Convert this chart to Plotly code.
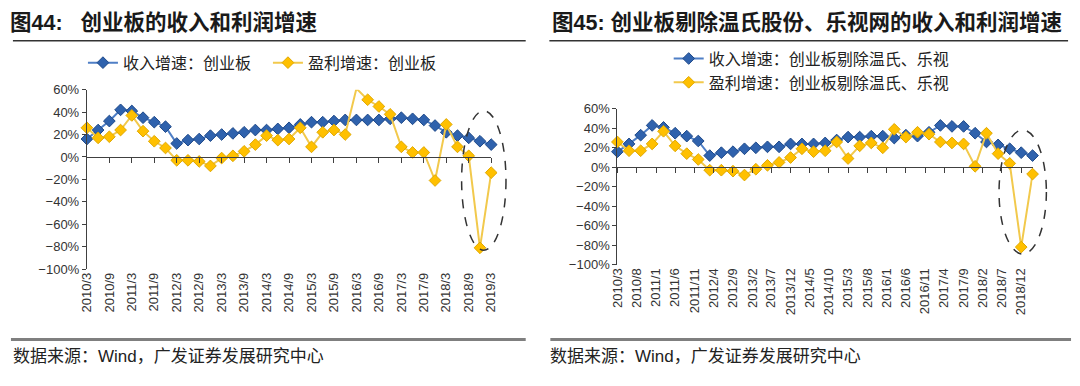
import plotly.graph_objects as go

# ---------------- data ----------------
QUARTERS = ["2010/3", "2010/6", "2010/9", "2010/12", "2011/3", "2011/6", "2011/9", "2011/12",
            "2012/3", "2012/6", "2012/9", "2012/12", "2013/3", "2013/6", "2013/9", "2013/12",
            "2014/3", "2014/6", "2014/9", "2014/12", "2015/3", "2015/6", "2015/9", "2015/12",
            "2016/3", "2016/6", "2016/9", "2016/12", "2017/3", "2017/6", "2017/9", "2017/12",
            "2018/3", "2018/6", "2018/9", "2018/12", "2019/3"]

LEFT_TICKS = ["2010/3", "2010/9", "2011/3", "2011/9", "2012/3", "2012/9", "2013/3", "2013/9",
              "2014/3", "2014/9", "2015/3", "2015/9", "2016/3", "2016/9", "2017/3", "2017/9",
              "2018/3", "2018/9", "2019/3"]

RIGHT_TICKS = ["2010/3", "2010/8", "2011/1", "2011/6", "2011/11", "2012/4", "2012/9", "2013/2",
               "2013/7", "2013/12", "2014/5", "2014/10", "2015/3", "2015/8", "2016/1", "2016/6",
               "2016/11", "2017/4", "2017/9", "2018/2", "2018/7", "2018/12"]

# 创业板 (%)
rev_all = [16, 24, 32, 42, 41, 35, 31, 27, 12, 15, 16, 19, 20, 21, 22, 24, 24, 25, 26, 29,
           31, 31, 32, 33, 33, 33, 33, 34, 35, 34, 33, 28, 22, 19, 17, 14, 11]
profit_all = [26, 17, 18, 24, 37, 23, 14, 8, -3, -3, -4, -8, -1, 1, 5, 11, 19, 15, 16, 26,
              9, 22, 24, 20, 61, 51, 45, 38, 9, 4, 4, -21, 29, 9, 1, -81, -14]

# 创业板剔除温氏、乐视 (%)
rev_ex = [16, 24, 33, 43, 41, 35, 32, 27, 12, 15, 16, 19, 20, 21, 21, 24, 24, 24, 25, 28,
          31, 31, 32, 32, 30, 33, 32, 36, 43, 42, 42, 35, 26, 23, 19, 15, 12]
profit_ex = [26, 17, 17, 24, 37, 22, 14, 8, -3, -3, -4, -8, -2, 2, 5, 10, 19, 16, 17, 26,
             9, 22, 25, 20, 39, 31, 36, 34, 26, 25, 24, 1, 35, 14, 4, -82, -7]


def to_date(lbl):
    y, m = lbl.split("/")
    return f"{int(y):04d}-{int(m):02d}-01"


Q_DATES = [to_date(q) for q in QUARTERS]
RIGHT_TICK_DATES = [to_date(t) for t in RIGHT_TICKS]

# ---------------- layout helpers ----------------
W, H = 1080, 386


def fx(p):
    return p / W


def fy(p):
    return 1 - p / H


BLUE_LINE = "#4f7fc6"
BLUE_MK = "#2f62ad"
BLUE_EDGE = "#1f4a8a"
YEL_LINE = "#f2c94c"
YEL_MK = "#ffc000"
AX = "#404040"
CJK = "Liberation Sans, Noto Sans CJK SC, sans-serif"

fig = go.Figure()


def add_pair(xs, rev, prof, xa, ya, leg, name_rev, name_prof):
    fig.add_trace(go.Scatter(
        x=xs, y=rev, mode="lines+markers", name=name_rev, xaxis=xa, yaxis=ya,
        line=dict(color=BLUE_LINE, width=2),
        marker=dict(symbol="diamond", size=9, color=BLUE_MK, line=dict(color=BLUE_EDGE, width=1)),
        cliponaxis=False, legend=leg))
    fig.add_trace(go.Scatter(
        x=xs, y=prof, mode="lines+markers", name=name_prof, xaxis=xa, yaxis=ya,
        line=dict(color=YEL_LINE, width=2),
        marker=dict(symbol="diamond", size=9, color=YEL_MK, line=dict(color="#e0a800", width=1)),
        cliponaxis=False, legend=leg))


add_pair(QUARTERS, rev_all, profit_all, "x", "y", "legend",
         "收入增速：创业板", "盈利增速：创业板")
add_pair(Q_DATES, rev_ex, profit_ex, "x2", "y2", "legend2",
         "收入增速：创业板剔除温氏、乐视", "盈利增速：创业板剔除温氏、乐视")

# invisible traces for the bottom label axes
fig.add_trace(go.Scatter(x=QUARTERS, y=[None] * len(QUARTERS), xaxis="x3", yaxis="y",
                         showlegend=False, hoverinfo="skip", mode="lines"))
fig.add_trace(go.Scatter(x=Q_DATES, y=[None] * len(Q_DATES), xaxis="x4", yaxis="y2",
                         showlegend=False, hoverinfo="skip", mode="lines"))

YMIN, YMAX = -100, 60
L_TOP, L_BOT = 86, 272.7
R_TOP, R_BOT = 106, 268
L_DOM_Y = [fy(L_BOT), fy(L_TOP)]
R_DOM_Y = [fy(R_BOT), fy(R_TOP)]


def zero_pos(dom):
    return dom[0] + (0 - YMIN) / (YMAX - YMIN) * (dom[1] - dom[0])


L_DOM_X = [fx(80), fx(490)]
R_DOM_X = [fx(618), fx(1039)]

TICKFONT = dict(family="Liberation Sans", size=13, color="#333")

yaxis_common = dict(range=[YMIN, YMAX], dtick=20, ticksuffix="%", showgrid=False,
                    zeroline=False, showline=True, linecolor=AX, linewidth=1.2,
                    ticks="outside", ticklen=4, tickcolor=AX, tickfont=TICKFONT)

fig.update_layout(
    width=W, height=H, margin=dict(l=0, r=0, t=0, b=0),
    paper_bgcolor="white", plot_bgcolor="white",
    xaxis=dict(type="category", categoryorder="array", categoryarray=QUARTERS,
               range=[0, len(QUARTERS) - 1], domain=L_DOM_X, anchor="free",
               position=zero_pos(L_DOM_Y), showline=True, linecolor=AX, linewidth=1.2,
               ticks="outside", ticklen=5, tickcolor=AX, tickvals=LEFT_TICKS,
               showticklabels=False, showgrid=False, zeroline=False),
    xaxis3=dict(type="category", categoryorder="array", categoryarray=QUARTERS,
                range=[0, len(QUARTERS) - 1], domain=L_DOM_X, anchor="y", overlaying="x",
                showline=False, ticks="", tickvals=LEFT_TICKS, tickangle=-90,
                tickfont=TICKFONT, showgrid=False, zeroline=False),
    yaxis=dict(domain=L_DOM_Y, anchor="x", **yaxis_common),
    xaxis2=dict(type="date", range=[Q_DATES[0], Q_DATES[-1]], domain=R_DOM_X, anchor="free",
                position=zero_pos(R_DOM_Y), showline=True, linecolor=AX, linewidth=1.2,
                ticks="outside", ticklen=5, tickcolor=AX, tickvals=RIGHT_TICK_DATES,
                showticklabels=False, showgrid=False, zeroline=False),
    xaxis4=dict(type="date", range=[Q_DATES[0], Q_DATES[-1]], domain=R_DOM_X, anchor="y2",
                overlaying="x2", showline=False, ticks="", tickvals=RIGHT_TICK_DATES,
                ticktext=RIGHT_TICKS, tickangle=-90, tickfont=TICKFONT,
                showgrid=False, zeroline=False),
    yaxis2=dict(domain=R_DOM_Y, anchor="x2", **yaxis_common),
    legend=dict(orientation="h", x=fx(76), xanchor="left", y=fy(58), yanchor="middle",
                font=dict(family=CJK, size=16, color="#222"), bgcolor="rgba(0,0,0,0)",
                itemwidth=30, tracegroupgap=0, entrywidth=140, entrywidthmode="pixels"),
    legend2=dict(orientation="v", x=fx(670), xanchor="left", y=fy(36), yanchor="top",
                 font=dict(family=CJK, size=16, color="#222"), bgcolor="rgba(0,0,0,0)",
                 itemwidth=30, tracegroupgap=0),
)

shapes = [
    # dashed ellipses (paper coords so they are not clipped by the plot area)
    dict(type="circle", xref="paper", yref="paper", x0=fx(460), x1=fx(505), y0=fy(253), y1=fy(108),
         line=dict(color="#333", width=1.5, dash="dash")),
    dict(type="circle", xref="paper", yref="paper", x0=fx(1005), x1=fx(1053), y0=fy(257), y1=fy(128),
         line=dict(color="#333", width=1.5, dash="dash")),
    # title rules
    dict(type="line", xref="paper", yref="paper", x0=fx(5), x1=fx(525), y0=fy(35), y1=fy(35),
         line=dict(color="#333", width=1.5)),
    dict(type="line", xref="paper", yref="paper", x0=fx(549), x1=fx(1075), y0=fy(35), y1=fy(35),
         line=dict(color="#333", width=1.5)),
    # bottom rules
    dict(type="line", xref="paper", yref="paper", x0=fx(3), x1=fx(525), y0=fy(346), y1=fy(346),
         line=dict(color="#7f7f7f", width=3)),
    dict(type="line", xref="paper", yref="paper", x0=fx(550), x1=fx(1078), y0=fy(346), y1=fy(346),
         line=dict(color="#7f7f7f", width=3)),
]
fig.update_layout(shapes=shapes)

annos = [
    dict(text="<b>图44:   创业板的收入和利润增速</b>", x=fx(0), y=fy(16)),
    dict(text="<b>图45: 创业板剔除温氏股份、乐视网的收入和利润增速</b>", x=fx(550), y=fy(16)),
]
for a in annos:
    fig.add_annotation(xref="paper", yref="paper", xanchor="left", yanchor="middle",
                       showarrow=False, font=dict(family=CJK, size=21.5, color="#1a1a1a"), **a)

for xpos in (3, 548):
    fig.add_annotation(text="数据来源：Wind，广发证券发展研究中心", xref="paper", yref="paper",
                       x=fx(xpos), y=fy(364), xanchor="left", yanchor="middle", showarrow=False,
                       font=dict(family=CJK, size=17, color="#222"))

fig.write_html("out.html", config={"displayModeBar": False},
               post_script="document.body.style.margin='0';document.body.style.padding='0';")
